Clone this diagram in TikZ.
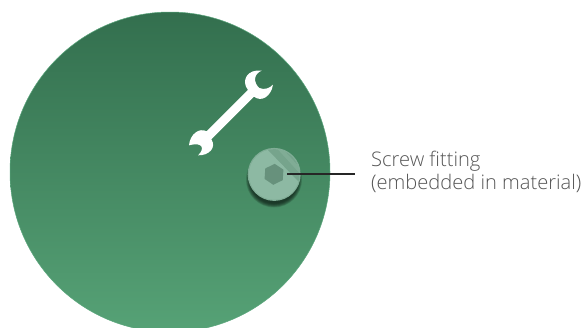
\documentclass[tikz,border=0pt]{standalone}
\usepackage{fontspec}
\setmainfont{Open Sans Light}[BoldFont={Open Sans}]
\usetikzlibrary{shapes.geometric}
\definecolor{disctop}{HTML}{336F4E}
\definecolor{discmid}{HTML}{3F855E}
\definecolor{discbot}{HTML}{56A276}
\definecolor{discrim}{HTML}{5AA67C}
\definecolor{screwlight}{HTML}{8DB9A3}
\definecolor{screwband}{HTML}{76A48C}
\definecolor{screwhead}{HTML}{67917C}
\definecolor{labelgrey}{HTML}{555555}
\begin{document}
\begin{tikzpicture}[x=1pt,y=-1pt]
\tikzstyle{disc}=[circle, minimum size=320pt, inner sep=0pt, top color=disctop, middle color=discmid, bottom color=discbot, draw=discrim, line width=0.5pt]
\tikzstyle{screwcap}=[circle, minimum size=53pt, inner sep=0pt, fill=screwband!55!screwlight]
\tikzstyle{hexhead}=[regular polygon, regular polygon sides=6, minimum size=21pt, inner sep=0pt, fill=screwhead, rotate=26]
\tikzstyle{callout}=[align=left, font=\fontsize{20.1}{23}\selectfont, text=labelgrey, inner xsep=16pt, inner ysep=0pt]
\useasboundingbox (0,0) rectangle (585,327);
\clip (0,0) rectangle (585,327);
\node[disc] (disc) at (170,172) {};
% wrench
\begin{scope}[shift={(170,60)},x=0.3333pt,y=-0.3333pt]
\fill[white] (275,32) .. controls (250,42) and (250,68) .. (268,84)
  .. controls (282,90) and (298,86) .. (309,74)
  .. controls (304,108) and (275,128) .. (252,110)
  -- (124,238) .. controls (140,262) and (118,287) .. (84,286)
  .. controls (102,270) and (104,244) .. (57,256)
  .. controls (60,222) and (88,202) .. (110,214)
  -- (234,90) .. controls (212,62) and (232,26) .. (275,32) -- cycle;
\end{scope}
% shadow of the screw
\foreach \r in {28,27.5,...,24}
  \fill[black!70!disctop, opacity=0.14] (274,179.5) circle (\r);
\node[screwcap] (screw) at (274.2,174.4) {};
\begin{scope}
\clip (274.2,174.4) circle (25.3);
\fill[screwlight] (245,145) rectangle (305,205);
\fill[screwband] (268,150) -- (300,183) -- (305,150) -- (275,140) -- cycle;
\fill[screwlight!90!white, opacity=0.3] (272,143) -- (277,143) -- (304,172) -- (304,178) -- cycle;
\end{scope}
\node[hexhead] (hex) at (274,174.3) {};
\coordinate (leadstart) at (287,174);
\node[callout, anchor=west] (label) at (355,171.5) {Screw fitting\\(embedded in material)};
\draw[line width=2pt, black!85] (leadstart) -- (leadstart -| label.west);
\end{tikzpicture}
\end{document}
